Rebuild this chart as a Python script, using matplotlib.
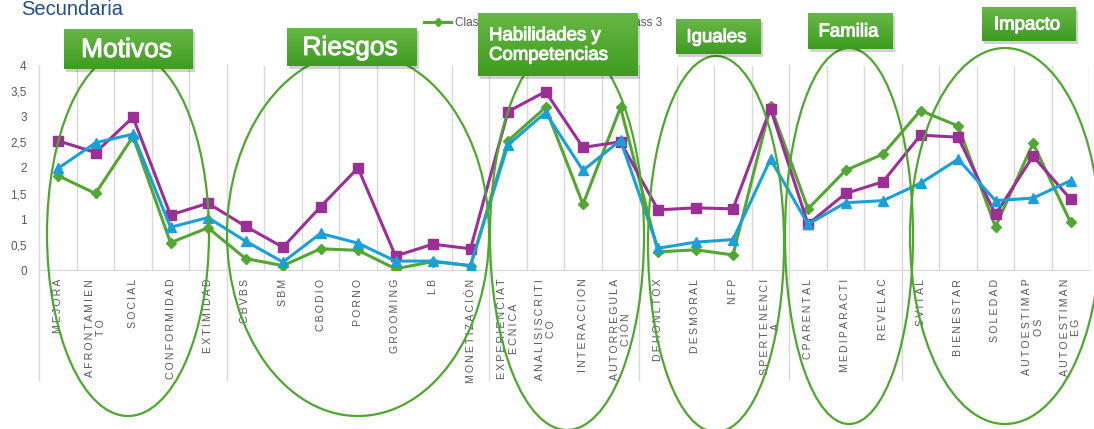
import numpy as np
import matplotlib
matplotlib.use("Agg")
import matplotlib.pyplot as plt
from matplotlib.patches import Ellipse, Rectangle
import matplotlib.patheffects as pe

plt.rcParams["font.family"] = ["Liberation Sans", "DejaVu Sans"]

# ---- data ----
categories = ["MEJORA", "AFRONTAMIEN\nTO", "SOCIAL", "CONFORMIDAD", "EXTIMIDAD",
              "CBVBS", "SBM", "CBODIO", "PORNO", "GROOMING", "LB", "MONETIZACIÓN",
              "EXPERIENCIAT\nECNICA", "ANALISISCRITI\nCO", "INTERACCION", "AUTORREGULA\nCIÓN",
              "DEHONLTOX", "DESMORAL", "NFP", "SPERTENENCI\nA",
              "CPARENTAL", "MEDIPARACTI", "REVELAC",
              "SVITAL", "BIENESTAR", "SOLEDAD", "AUTOESTIMAP\nOS", "AUTOESTIMAN\nEG"]
class1 = [1.85, 1.50, 2.61, 0.54, 0.83, 0.23, 0.09, 0.42, 0.39, 0.03, 0.17, 0.09,
          2.53, 3.18, 1.29, 3.18, 0.36, 0.40, 0.30, 3.21,
          1.20, 1.95, 2.27, 3.12, 2.82, 0.85, 2.48, 0.94]
class2 = [2.53, 2.30, 2.99, 1.08, 1.31, 0.86, 0.45, 1.24, 2.00, 0.28, 0.51, 0.42,
          3.10, 3.49, 2.40, 2.51, 1.18, 1.22, 1.20, 3.16,
          0.90, 1.50, 1.73, 2.64, 2.60, 1.09, 2.23, 1.39]
class3 = [1.99, 2.49, 2.66, 0.84, 1.03, 0.57, 0.16, 0.72, 0.53, 0.18, 0.18, 0.09,
          2.45, 3.08, 1.95, 2.54, 0.43, 0.55, 0.60, 2.17,
          0.90, 1.32, 1.36, 1.70, 2.17, 1.36, 1.41, 1.75]
series_names = ["Class 1", "Class 2", "Class 3"]
group_breaks = [5, 12, 16, 20, 23]   # category index where a new group begins
yticks = [0, 0.5, 1, 1.5, 2, 2.5, 3, 3.5, 4]

GREEN = "#52a631"
PURPLE = "#9c2f96"
BLUE = "#1aa0d8"
GRID = "#d9d9d9"
TXT = "#595959"

W, H = 1094, 429
fig = plt.figure(figsize=(W / 100, H / 100), dpi=100)
ax = fig.add_axes([39.25 / W, 1 - 270.3 / H, 1050 / W, 204.8 / H])

x = np.arange(len(categories))
ax.plot(x, class1, color=GREEN, lw=2.2, marker="D", ms=5, label=series_names[0], zorder=3)
ax.plot(x, class2, color=PURPLE, lw=2.2, marker="s", ms=7, label=series_names[1], zorder=3)
ax.plot(x, class3, color=BLUE, lw=2.2, marker="^", ms=7, label=series_names[2], zorder=3)

ax.set_xlim(-0.5, len(categories) - 0.5)
ax.set_ylim(0, 4)
for s in ["top", "right"]:
    ax.spines[s].set_visible(False)
ax.spines["bottom"].set_color(GRID)
ax.spines["left"].set_visible(False)

# vertical gridlines at category boundaries, group separators extend downwards
for k in range(len(categories) + 1):
    b = k - 0.5
    if k == 0 or k in group_breaks:
        ax.axvline(b, ymin=-0.536, ymax=1, color=GRID, lw=1, clip_on=False, zorder=1)
    else:
        ax.axvline(b, color=GRID, lw=1, zorder=1)

ax.set_yticks(yticks)
ax.set_yticklabels([("%g" % v).replace(".", ",") for v in yticks], fontsize=8.5, color=TXT)
ax.set_xticks(x)
spaced = ["\n".join("\u2009".join(line) for line in c.split("\n")) for c in categories]
ax.set_xticklabels(spaced, rotation=90, fontsize=7.6, color=TXT, va="top", ha="center",
                   multialignment="center")
ax.tick_params(length=0, pad=6)
ax.tick_params(axis="y", pad=9)

fig.text(21 / W, 1 - 15 / H, "Secundaria", fontsize=14.5, color="#1f4e8c", va="baseline")

fig.legend(loc="center", bbox_to_anchor=(543 / W, 1 - 23 / H), ncol=3, frameon=False,
           fontsize=8.5, labelcolor=TXT, handlelength=2.3, handletextpad=0.3,
           columnspacing=1.2, markerscale=0.8)

# ---- overlay annotations in pixel coordinates ----
ov = fig.add_axes([0, 0, 1, 1], zorder=10)
ov.axis("off")
ov.patch.set_visible(False)

ellipses = [(128, 234, 162, 364), (358, 234, 262, 364), (567, 236, 154, 388),
            (716, 244, 136, 376), (849, 236, 128, 376), (1005, 236, 190, 376)]
for cx, cy, w, h in ellipses:
    ov.add_patch(Ellipse((cx, cy), w, h, fill=False, ec="#4ea72e", lw=1.6))

boxes = [(64, 29, 193, 69, "Motivos", 19),
         (287, 28, 417, 66, "Riesgos", 19),
         (478, 13, 638, 76, "Habilidades y\nCompetencias", 13.4),
         (676, 19, 761, 54, "Iguales", 13.4),
         (808, 13, 893, 49, "Familia", 13.4),
         (982, 7, 1076, 41, "Impacto", 13.4)]
grad = np.linspace(0, 1, 50).reshape(-1, 1)
cmap = matplotlib.colors.LinearSegmentedColormap.from_list("g", ["#67b746", "#3f9c20"])
bold = [pe.withStroke(linewidth=0.7, foreground="white")]
for x0, y0, x1, y1, label, fs in boxes:
    ov.add_patch(Rectangle((x0 + 2, y0 + 3), x1 - x0, y1 - y0, color="black", alpha=0.18, lw=0))
    ov.imshow(grad, cmap=cmap, extent=(x0, x1, y1, y0), aspect="auto", zorder=2)
    if "\n" in label:
        ov.text(x0 + 11, (y0 + y1) / 2 + 1, label, color="white", fontsize=fs, va="center",
                ha="left", linespacing=1.2, zorder=3, path_effects=bold)
    else:
        ov.text((x0 + x1) / 2 - 2, (y0 + y1) / 2 + 1, label, color="white", fontsize=fs,
                va="center", ha="center", zorder=3, path_effects=bold)
ov.set_xlim(0, W)
ov.set_ylim(H, 0)

fig.savefig("out.png", dpi=100)
